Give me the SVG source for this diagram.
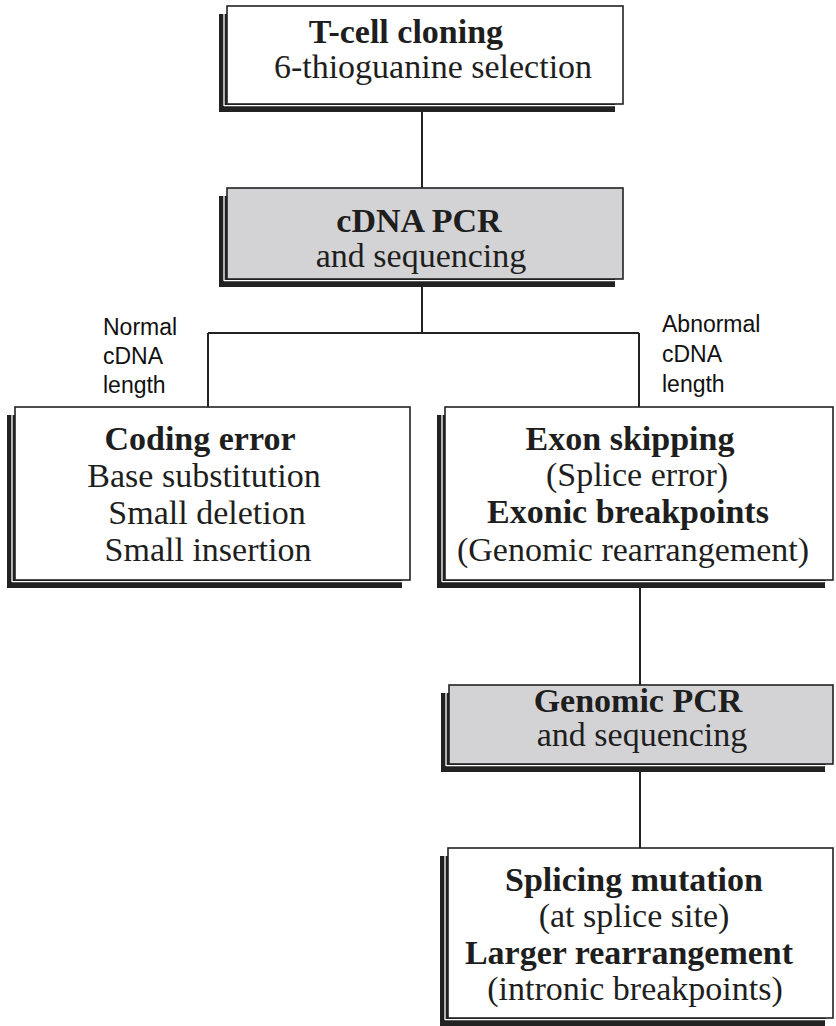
<svg xmlns="http://www.w3.org/2000/svg" width="836" height="1026" viewBox="0 0 836 1026">
<style>
.sh{fill:#222}
.gap{stroke:#fff;stroke-width:1.3;fill:none}
.box{fill:#fff;stroke:#222;stroke-width:1.6}
.gray{fill:#d3d3d5}
.t{font-family:"Liberation Serif","Times New Roman",serif;font-size:34px;fill:#1e1e1e;text-anchor:middle}
.b{font-weight:bold}
.lab{font-family:"Liberation Sans",Arial,sans-serif;font-size:23px;fill:#111}
.con{stroke:#222;stroke-width:2;fill:none}
</style>
<rect width="836" height="1026" fill="#fff"/>
<g id="connectors">
<path class="con" d="M422 104V188"/>
<path class="con" d="M422 279V333M208 333H639M208 333V407M639 333V407"/>
<path class="con" d="M640 580V685"/>
<path class="con" d="M640 764V848"/>
</g>
<g id="n1">
<rect class="sh" x="219" y="14" width="396" height="98"/>
<path class="gap" d="M224 14V106M224 105.6H615"/>
<rect class="box" x="227" y="6" width="396" height="98"/>
<text class="t b" x="406" y="43">T-cell cloning</text>
<text class="t" x="433" y="78">6-thioguanine selection</text>
</g>
<g id="n2">
<rect class="sh" x="219" y="196" width="396" height="91"/>
<path class="gap" d="M224 196V281M224 280.6H615"/>
<rect class="box gray" x="227" y="188" width="396" height="91"/>
<text class="t b" x="419" y="232">cDNA PCR</text>
<text class="t" x="421" y="267">and sequencing</text>
</g>
<g id="n3">
<rect class="sh" x="7" y="415" width="395" height="173"/>
<path class="gap" d="M12 415V582M12 581.6H402"/>
<rect class="box" x="15" y="407" width="395" height="173"/>
<text class="t b" x="200" y="450">Coding error</text>
<text class="t" x="204" y="487">Base substitution</text>
<text class="t" x="207" y="524">Small deletion</text>
<text class="t" x="208" y="561">Small insertion</text>
</g>
<g id="n4">
<rect class="sh" x="437" y="415" width="388" height="173"/>
<path class="gap" d="M442 415V582M442 581.6H825"/>
<rect class="box" x="445" y="407" width="388" height="173"/>
<text class="t b" x="630" y="450">Exon skipping</text>
<text class="t" x="637" y="486">(Splice error)</text>
<text class="t b" x="628" y="523">Exonic breakpoints</text>
<text class="t" x="633" y="561">(Genomic rearrangement)</text>
</g>
<g id="n5">
<rect class="sh" x="441" y="693" width="384" height="79"/>
<path class="gap" d="M446 693V766M446 765.6H825"/>
<rect class="box gray" x="449" y="685" width="384" height="79"/>
<text class="t b" x="638" y="712">Genomic PCR</text>
<text class="t" x="642" y="746">and sequencing</text>
</g>
<g id="n6">
<rect class="sh" x="440" y="856" width="385" height="170"/>
<path class="gap" d="M445 856V1020M445 1019.6H825"/>
<rect class="box" x="448" y="848" width="385" height="170"/>
<text class="t b" x="634" y="891">Splicing mutation</text>
<text class="t" x="634" y="927">(at splice site)</text>
<text class="t b" x="629" y="964">Larger rearrangement</text>
<text class="t" x="635" y="1000">(intronic breakpoints)</text>
</g>
<g id="labels">
<text class="lab" x="103" y="335">Normal</text>
<text class="lab" x="103" y="364">cDNA</text>
<text class="lab" x="103" y="393">length</text>
<text class="lab" x="662" y="332">Abnormal</text>
<text class="lab" x="662" y="362">cDNA</text>
<text class="lab" x="662" y="392">length</text>
</g>
</svg>
